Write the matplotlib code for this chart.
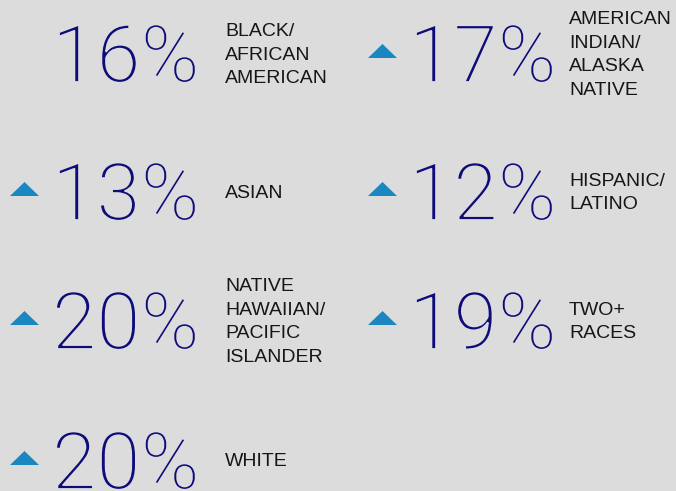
import matplotlib
matplotlib.use("Agg")
import matplotlib.pyplot as plt
from matplotlib import font_manager as fm
from matplotlib import patheffects as pe
from matplotlib.patches import Polygon

# ---- data ----
values = ["16%", "17%", "13%", "12%", "20%", "19%", "20%"]
labels = [
    ["BLACK/", "AFRICAN", "AMERICAN"],
    ["AMERICAN", "INDIAN/", "ALASKA", "NATIVE"],
    ["ASIAN"],
    ["HISPANIC/", "LATINO"],
    ["NATIVE", "HAWAIIAN/", "PACIFIC", "ISLANDER"],
    ["TWO+", "RACES"],
    ["WHITE"],
]
trend_up = [False, True, True, True, True, True, True]

# ---- layout (pixels) ----
W, H = 676, 491
row_centers = [53, 191, 320, 460]
col_num_x = [52, 409]
col_lab_x = [225, 569]
col_tri_x = [24.5, 382.5]
tri_w, tri_h = 29, 14
line_gap = 23.5
cap_half = 29

bg = "#dcdcdc"
num_color = "#0e0b7a"
lab_color = "#161616"
tri_color = "#1a87c0"


def find_font(cond):
    for f in fm.fontManager.ttflist:
        if f.style == "normal" and cond(f):
            return f
    return None


def wnum(w):
    if isinstance(w, int):
        return w
    return {"thin": 100, "extra light": 200, "light": 300, "normal": 400,
            "regular": 400}.get(str(w).lower(), 400)


thin = find_font(lambda f: f.name.startswith("Roboto") and wnum(f.weight) <= 200)
light = find_font(lambda f: f.name == "Roboto" and wnum(f.weight) == 300)
if thin is not None:
    num_font = fm.FontProperties(fname=thin.fname)
    effects = [pe.withStroke(linewidth=0.9, foreground=num_color)]
elif light is not None:
    num_font = fm.FontProperties(fname=light.fname)
    effects = [pe.Normal(), pe.Stroke(linewidth=1.3, foreground=bg)]
else:
    num_font = fm.FontProperties(family="Lato", weight="light")
    effects = []
num_font.set_size(57.5)

lab_font = fm.FontProperties(family=["Liberation Sans", "DejaVu Sans"], size=14)

fig = plt.figure(figsize=(W / 100, H / 100), dpi=100, facecolor=bg)
ax = fig.add_axes([0, 0, 1, 1])
ax.set_xlim(0, W)
ax.set_ylim(H, 0)
ax.axis("off")
ax.set_facecolor(bg)

for i, (val, lab, up) in enumerate(zip(values, labels, trend_up)):
    r, c = divmod(i, 2)
    cy = row_centers[r]
    t = ax.text(col_num_x[c], cy + cap_half, val, fontproperties=num_font,
                color=num_color, ha="left", va="baseline")
    if effects:
        t.set_path_effects(effects)
    n = len(lab)
    for j, line in enumerate(lab):
        y = cy + (j - (n - 1) / 2) * line_gap
        ax.text(col_lab_x[c], y, line, fontproperties=lab_font,
                color=lab_color, ha="left", va="center_baseline")
    if up:
        tx = col_tri_x[c]
        ty = cy - 2
        ax.add_patch(Polygon([[tx - tri_w / 2, ty + tri_h / 2],
                              [tx + tri_w / 2, ty + tri_h / 2],
                              [tx, ty - tri_h / 2]],
                             closed=True, color=tri_color, lw=0))

fig.savefig("out.png", dpi=100, facecolor=bg)
